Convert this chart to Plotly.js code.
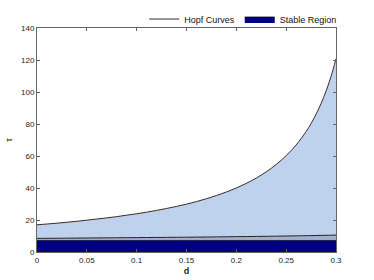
<!DOCTYPE html>
<html><head><meta charset="utf-8">
<script src="https://cdn.plot.ly/plotly-3.0.1.min.js"></script>
<style>html,body{margin:0;padding:0;background:#fff}#chart{width:374px;height:280px}</style>
</head><body><div id="chart"></div>
<script>
// d values (x axis)
const dValues = [0, 0.01, 0.02, 0.03, 0.04, 0.05, 0.06, 0.07, 0.08, 0.09, 0.10,
                 0.11, 0.12, 0.13, 0.14, 0.15, 0.16, 0.17, 0.18, 0.19, 0.20,
                 0.21, 0.22, 0.23, 0.24, 0.25, 0.26, 0.27, 0.275, 0.28, 0.285, 0.29, 0.295, 0.30];
// upper Hopf curve (tau)
const upperHopf = [17.0, 17.5, 18.0, 18.6, 19.2, 19.9, 20.6, 21.3, 22.1, 23.0, 23.9,
                   24.9, 26.0, 27.2, 28.5, 29.9, 31.5, 33.3, 35.3, 37.5, 40.0,
                   42.9, 46.2, 50.1, 54.7, 60.2, 66.9, 75.3, 80.3, 86.1, 92.8, 100.5, 109.7, 120.8];
// lower Hopf curve (tau)
const lowerHopf = [8.5, 8.55, 8.6, 8.65, 8.7, 8.75, 8.8, 8.85, 8.9, 8.95, 9.0,
                   9.05, 9.1, 9.15, 9.2, 9.25, 9.3, 9.35, 9.45, 9.5, 9.6,
                   9.65, 9.75, 9.8, 9.9, 10.0, 10.1, 10.2, 10.25, 10.3, 10.4, 10.45, 10.5, 10.6];
// stable region upper bound
const stableTau = dValues.map(() => 7.2);

const xTicks = [0, 0.05, 0.1, 0.15, 0.2, 0.25, 0.3];
const xTickText = ['0', '0.05', '0.1', '0.15', '0.2', '0.25', '0.3'];
const yTicks = [0, 20, 40, 60, 80, 100, 120, 140];

const traces = [
  {x: dValues, y: stableTau, mode: 'lines', fill: 'tozeroy', fillcolor: '#000080',
   line: {color: '#000040', width: 0.8}, name: 'Stable Region', showlegend: true},
  {x: dValues, y: lowerHopf, mode: 'lines', fill: 'tonexty', fillcolor: '#a3b1c7',
   line: {color: '#222222', width: 1, shape: 'spline'}, showlegend: false},
  {x: dValues, y: upperHopf, mode: 'lines', fill: 'tonexty', fillcolor: '#bed2ee',
   line: {color: '#bed2ee', width: 0, shape: 'spline'}, showlegend: false},
  {x: dValues, y: upperHopf, mode: 'lines', line: {color: '#3d2a24', width: 1, shape: 'spline'},
   name: 'Hopf Curves', showlegend: true}
];

const axisCommon = {
  showline: true, linecolor: '#666', linewidth: 1, mirror: 'ticks',
  ticks: 'inside', ticklen: 3, tickcolor: '#666', showgrid: false, zeroline: false,
  tickfont: {family: 'Liberation Sans, Arial, sans-serif', size: 8, color: '#262626'}
};

const layout = {
  width: 374, height: 280,
  margin: {l: 37, r: 38, t: 28, b: 28, autoexpand: false},
  paper_bgcolor: '#fff', plot_bgcolor: '#fff',
  font: {family: 'Liberation Sans, Arial, sans-serif', size: 8, color: '#262626'},
  xaxis: Object.assign({}, axisCommon, {range: [0, 0.3], tickvals: xTicks, ticktext: xTickText,
    title: {text: '<b>d</b>', font: {size: 9}, standoff: 4}}),
  yaxis: Object.assign({}, axisCommon, {range: [0, 140], tickvals: yTicks,
    title: {text: 'τ', font: {size: 9}, standoff: 6}}),
  legend: {orientation: 'h', xref: 'container', yref: 'container',
    x: 0.915, xanchor: 'right', y: 0.932, yanchor: 'middle', traceorder: 'reversed',
    bgcolor: 'rgba(0,0,0,0)', font: {size: 9, color: '#111'}, itemwidth: 30, tracegroupgap: 0},
  showlegend: true
};

Plotly.newPlot('chart', traces, layout, {displayModeBar: false, staticPlot: true});
</script></body></html>
